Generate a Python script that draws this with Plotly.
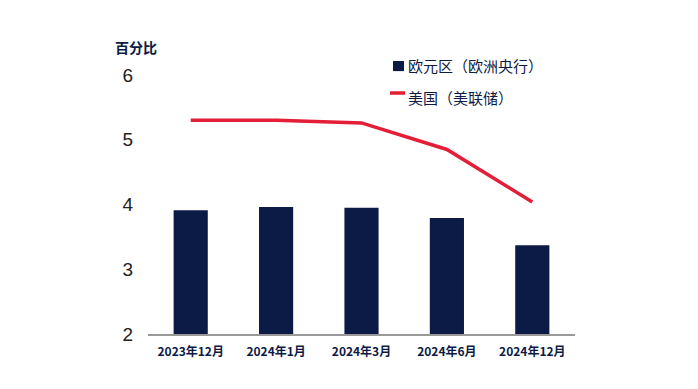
import plotly.graph_objects as go

categories = ["2023年12月", "2024年1月", "2024年3月", "2024年6月", "2024年12月"]
ecb_values = [3.91, 3.96, 3.95, 3.79, 3.37]
fed_values = [5.30, 5.30, 5.26, 4.85, 4.04]
y_ticks = [2, 3, 4, 5, 6]
series_names = ["欧元区（欧洲央行）", "美国（美联储）"]

navy = "#0C1a46"
red = "#E31E36"

fig = go.Figure()
fig.add_trace(go.Bar(
    x=categories, y=[v - 2 for v in ecb_values], base=2,
    name=series_names[0], marker=dict(color=navy, line=dict(width=0)),
    width=0.4, showlegend=False,
))
fig.add_trace(go.Scatter(
    x=categories, y=fed_values, mode="lines", name=series_names[1],
    line=dict(color=red, width=3.5), showlegend=False,
))

fig.update_layout(
    width=698, height=389,
    margin=dict(l=140, r=131, t=67, b=63, autoexpand=False),
    plot_bgcolor="white", paper_bgcolor="white",
    font=dict(family="Noto Sans CJK SC, Arial", color=navy),
    bargap=0.6,
)
fig.update_xaxes(
    showline=True, linecolor="#999999", linewidth=1.5,
    showgrid=False, ticks="", ticklabelstandoff=6,
    tickfont=dict(size=12, color=navy, family="Noto Sans CJK SC", weight="bold"),
)
fig.update_yaxes(
    range=[2, 6], tickvals=y_ticks, showgrid=False, zeroline=False,
    showline=False, ticks="", ticklabelstandoff=14,
    tickfont=dict(size=19, color="#222222", family="Liberation Sans, Arial"),
)
fig.add_annotation(
    text="百分比", xref="paper", yref="paper", x=-0.027, y=1.108,
    xanchor="center", yanchor="middle", showarrow=False,
    font=dict(size=14, color=navy, family="Noto Sans CJK SC", weight="bold"),
)
# manual legend
fig.add_shape(type="rect", xref="paper", yref="paper",
              x0=0.5738, x1=0.5995, y0=1.015, y1=1.054,
              fillcolor=navy, line=dict(width=0))
fig.add_shape(type="line", xref="paper", yref="paper",
              x0=0.5667, x1=0.6019, y0=0.9305, y1=0.9305,
              line=dict(color=red, width=3.5))
for name, yy in zip(series_names, [1.0386, 0.915]):
    fig.add_annotation(
        text=name, xref="paper", yref="paper", x=0.6042, y=yy,
        xanchor="left", yanchor="middle", showarrow=False,
        font=dict(size=15, color=navy, family="Noto Sans CJK SC"),
    )
fig.write_html("out.html")
